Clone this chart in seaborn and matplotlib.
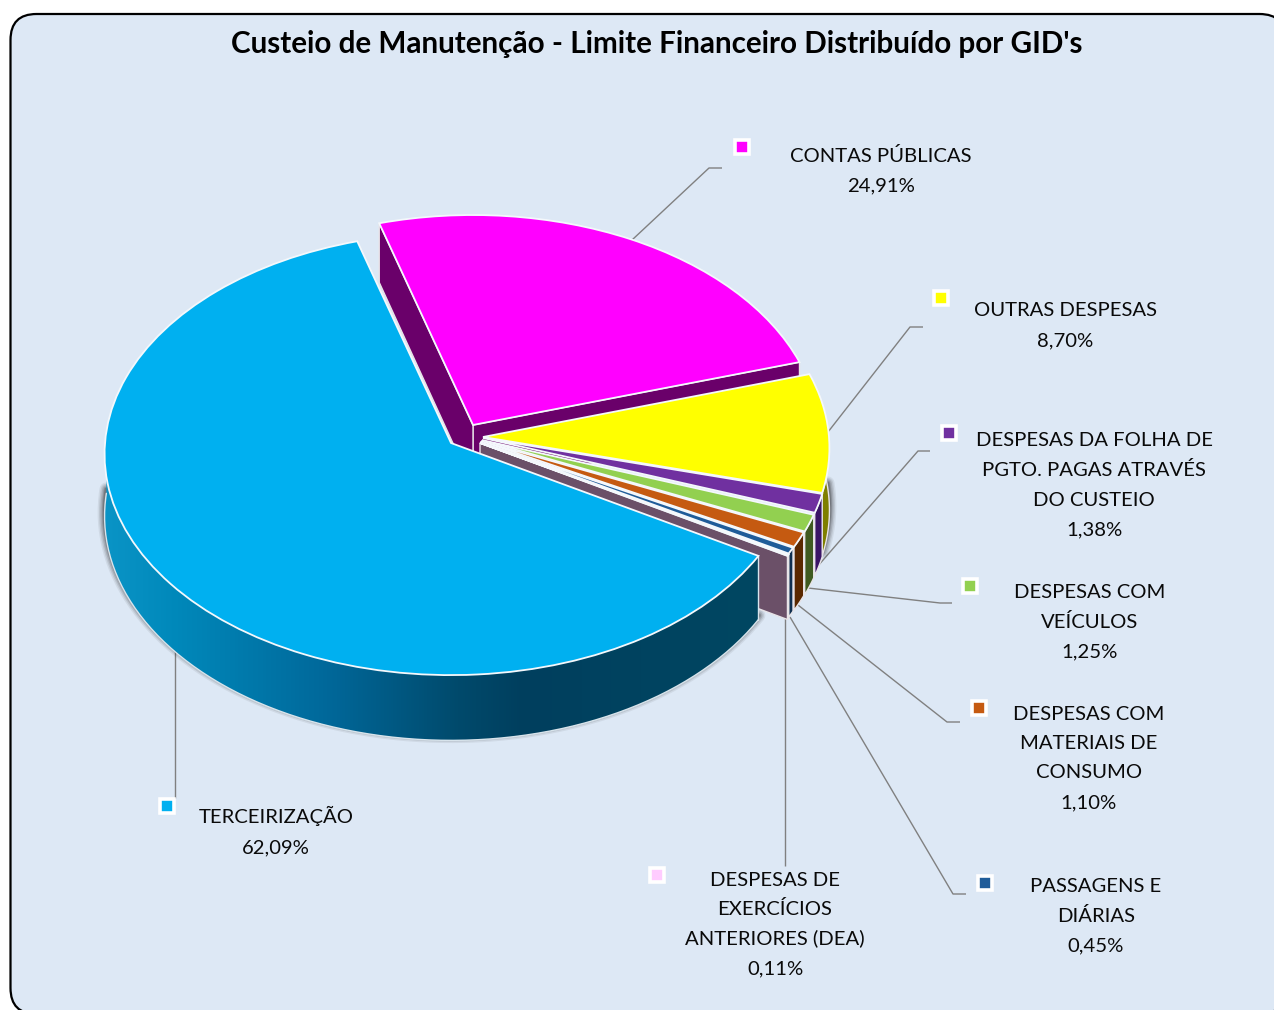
import numpy as np
import matplotlib
matplotlib.use("Agg")
import matplotlib.pyplot as plt
import seaborn as sns
from matplotlib.colors import LinearSegmentedColormap
from matplotlib.patches import FancyBboxPatch, Polygon
from matplotlib.transforms import Transform

# ---------- data ----------
TITLE = "Custeio de Manutenção - Limite Financeiro Distribuído por GID's"
CATEGORIES = [
    ["CONTAS PÚBLICAS"],
    ["OUTRAS DESPESAS"],
    ["DESPESAS DA FOLHA DE", "PGTO. PAGAS ATRAVÉS", "DO CUSTEIO"],
    ["DESPESAS COM", "VEÍCULOS"],
    ["DESPESAS COM", "MATERIAIS DE", "CONSUMO"],
    ["PASSAGENS E", "DIÁRIAS"],
    ["DESPESAS DE", "EXERCÍCIOS", "ANTERIORES (DEA)"],
    ["TERCEIRIZAÇÃO"],
]
VALUES = [24.91, 8.70, 1.38, 1.25, 1.10, 0.45, 0.11, 62.09]
PCT_LABELS = ["24,91%", "8,70%", "1,38%", "1,25%", "1,10%", "0,45%", "0,11%", "62,09%"]

# ---------- style ----------
TOP_COLORS = ["#FF00FF", "#FFFF00", "#7030A0", "#92D050", "#C55A11", "#1F5C99", "#FFCCFF", "#00B0F0"]
WALL_COLORS = ["#6A006A", "#7F7F00", "#3A1466", "#3F5A20", "#5A2800", "#0F2F50", "#6B5068", None]
CENTERS = [(473, 425), (483, 437), (483, 438), (482, 440), (481, 441), (480, 442), (480, 443), (451, 443)]
MARKERS = [(742, 147), (941, 298), (949, 433), (970, 586), (979, 708), (985, 883), (657, 875), (167, 806)]
LABEL_X = [881, 1065, 1094, 1090, 1089, 1096, 775, 276]
LABEL_Y = [154, 309, 439, 591, 712, 885, 878, 816]
LEADERS = [
    [(632, 240), (709, 168), (722, 168)],
    [(828, 432), (910, 327), (923, 327)],
    [(817, 567), (918, 451), (930, 451)],
    [(808, 588), (940, 603), (952, 603)],
    [(798, 605), (947, 722), (960, 722)],
    [(790, 617), (953, 894), (966, 894)],
    [(785, 617), (785, 866)],
    [(175, 645), (175, 798)],
]
BG = "#DDE8F5"
RX, RY, PERSP, DEPTH = 346.0, 220.5, 0.05, 62.0
LINE_H = 29.5

sns.set_theme(style="white")
plt.rcParams["font.family"] = ["Lato", "DejaVu Sans"]
palette = sns.color_palette(TOP_COLORS)


class Project(Transform):
    """Tilted-disc projection of the pie's unit circle onto image pixels."""
    input_dims = output_dims = 2
    is_affine = False
    has_inverse = False

    def __init__(self, cx, cy, dz=0.0):
        super().__init__()
        self.cx, self.cy, self.dz = cx, cy, dz

    def transform_non_affine(self, values):
        values = np.asarray(values, dtype=float)
        w = 1 + PERSP * values[:, 1]
        return np.column_stack([
            self.cx + RX * values[:, 0] / w,
            self.cy - RY * values[:, 1] / w + self.dz / w,
        ])


def rim(center, a1, a2, dz=0.0, n=160):
    t = np.radians(np.linspace(a1, a2, n))
    return Project(*center, dz).transform_non_affine(np.column_stack([np.cos(t), np.sin(t)]))


def spoke(center, a):
    t = np.radians(a)
    uv = np.array([[0.0, 0.0], [np.cos(t), np.sin(t)]])
    a_top = Project(*center).transform_non_affine(uv)
    a_bot = Project(*center, DEPTH).transform_non_affine(uv)
    return np.vstack([a_top, a_bot[::-1]])


fig = plt.figure(figsize=(12.74, 10.10), dpi=100, facecolor="white")
ax = fig.add_axes([0, 0, 1, 1])

wedges, _ = ax.pie(VALUES, colors=palette, startangle=106.5, counterclock=False,
                   wedgeprops=dict(edgecolor="#F4F8FC", linewidth=1.3))
ax.set_aspect("auto")
ax.set_xlim(0, 1274)
ax.set_ylim(1010, 0)
ax.axis("off")

# frame
ax.add_patch(FancyBboxPatch((10.5, 14), 1275, 1000, boxstyle="round,pad=0,rounding_size=26",
                            facecolor=BG, edgecolor="black", linewidth=1.6, zorder=1,
                            clip_on=True))

# leader lines
for pts in LEADERS:
    xy = np.array(pts)
    ax.plot(xy[:, 0], xy[:, 1], color="#808080", lw=1.0, zorder=2, solid_capstyle="butt")

blue = wedges[7]
LEFT_END = -183.0

# soft shadow under the front rim
for lw, al in [(10, .07), (8, .1), (6, .14), (4, .18), (2.5, .22)]:
    for c, a1, a2 in [(CENTERS[1], 3, wedges[1].theta1), (CENTERS[7], blue.theta2, LEFT_END)]:
        xy = rim(c, a1, a2, DEPTH - 4)
        ax.plot(xy[:, 0], xy[:, 1], color="#1a1a1a", alpha=al, lw=lw, zorder=3,
                solid_capstyle="round")

# walls, far slices first
wall_edge = dict(edgecolor="#E8E4E8", linewidth=1.0)
m = wedges[0]
for a in (m.theta1, m.theta2):
    ax.fill(*spoke(CENTERS[0], a).T, facecolor=WALL_COLORS[0], zorder=5, **wall_edge)

for i in range(1, 7):
    w = wedges[i]
    top = rim(CENTERS[i], w.theta1, w.theta2)
    bot = rim(CENTERS[i], w.theta1, w.theta2, DEPTH)
    ax.fill(*np.vstack([top, bot[::-1]]).T, facecolor=WALL_COLORS[i], zorder=6 + i, **wall_edge)

d = wedges[6]
ax.fill(*spoke(CENTERS[6], d.theta1).T, facecolor=WALL_COLORS[6], zorder=14, **wall_edge)

# terceirização wall: shaded horizontally
shade = LinearSegmentedColormap.from_list(
    "wall", [(0.0, "#0A94C6"), (0.11, "#0088BA"), (0.34, "#00689A"), (0.54, "#004A6C"),
             (0.64, "#003F5E"), (1.0, "#004762")])
top = rim(CENTERS[7], blue.theta2, LEFT_END)
bot = rim(CENTERS[7], blue.theta2, LEFT_END, DEPTH)
outline = Polygon(np.vstack([top, bot[::-1]]), closed=True, transform=ax.transData,
                  facecolor="none", edgecolor="none")
ax.add_patch(outline)
x0, x1 = np.vstack([top, bot])[:, 0].min(), np.vstack([top, bot])[:, 0].max()
y0, y1 = np.vstack([top, bot])[:, 1].min(), np.vstack([top, bot])[:, 1].max()
img = ax.imshow(np.linspace(0, 1, 512)[None, :], extent=(x0, x1, y1, y0), cmap=shade,
                aspect="auto", zorder=15, interpolation="bilinear")
img.set_clip_path(outline)
xy = rim(CENTERS[7], blue.theta2, LEFT_END, DEPTH)
ax.plot(xy[:, 0], xy[:, 1], color="#D8E4EC", lw=1.0, zorder=16)
xy = spoke(CENTERS[7], blue.theta2)[[1, 2]]
ax.plot(xy[:, 0], xy[:, 1], color="#D8E4EC", lw=1.0, zorder=16)

# top faces
for i, w in enumerate(wedges):
    w.set_transform(Project(*CENTERS[i]) + ax.transData)
    w.set_zorder(20 + i)
ax.set_aspect("auto")
ax.set_xlim(0, 1274)
ax.set_ylim(1010, 0)

# markers and labels
for i, (mx, my) in enumerate(MARKERS):
    ax.plot([mx], [my], marker="s", ms=9.6, mfc=palette[i], mec="white", mew=2.6, zorder=30, ls="none")
    lines = CATEGORIES[i] + [PCT_LABELS[i]]
    for k, txt in enumerate(lines):
        ax.text(LABEL_X[i], LABEL_Y[i] + k * LINE_H + 7.5, txt, ha="center", va="baseline",
                fontsize=14.6, color="#0a0a0a", zorder=31)

ax.text(657, 53, TITLE, ha="center", va="baseline", fontsize=21.3, fontweight="bold",
        color="black", zorder=31)

fig.savefig("out.png", dpi=100, facecolor="white")
